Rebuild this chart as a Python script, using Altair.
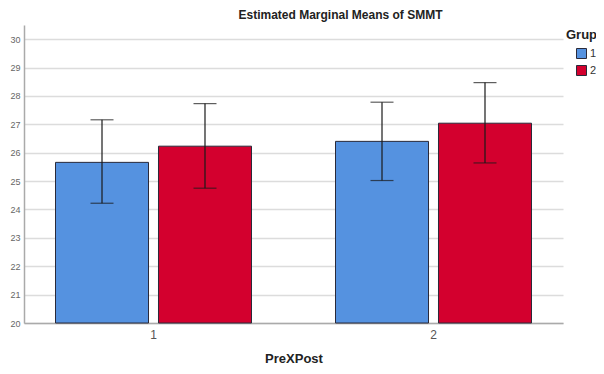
import altair as alt
import pandas as pd

prepost = ["1", "1", "2", "2"]
grup = ["1", "2", "1", "2"]
means = [25.66, 26.23, 26.40, 27.04]
lower = [24.22, 24.75, 25.02, 25.64]
upper = [27.16, 27.73, 27.78, 28.47]
y_ticks = [20, 21, 22, 23, 24, 25, 26, 27, 28, 29, 30]
baseline = 20
colors = ["#5592E0", "#D3002E"]

df = pd.DataFrame({"PreXPost": prepost, "Grup": grup, "mean": means,
                   "lo": lower, "hi": upper})

FONT = "Liberation Sans"

x = alt.X("PreXPost:N", title="PreXPost",
          scale=alt.Scale(paddingInner=0.3, paddingOuter=0.1125),
          axis=alt.Axis(labelAngle=0, labelFontSize=12, labelColor="#555555",
                        labelFont=FONT, titleFont=FONT, titleFontSize=13,
                        titleFontWeight="bold", titleColor="#222222",
                        titlePadding=12, ticks=False, domainColor="#aaaaaa",
                        domainWidth=1.5, labelPadding=6))
xoff = alt.XOffset("Grup:N", scale=alt.Scale(paddingInner=0.097, paddingOuter=0))
yscale = alt.Scale(domain=[20, 30.5], nice=False, zero=False)
yaxis = alt.Axis(values=y_ticks, labelFontSize=9, labelColor="#666666",
                 labelFont=FONT, ticks=False, labelPadding=4,
                 labelOverlap=False, tickCount=11,
                 gridColor="#dcdcdc", gridWidth=1.5,
                 domainColor="#aaaaaa", domainWidth=1.5)

bars = alt.Chart(df).mark_bar(stroke="#2a2a3a", strokeWidth=1).encode(
    x=x,
    xOffset=xoff,
    y=alt.Y("mean:Q", title=None, scale=yscale, axis=yaxis),
    y2=alt.datum(baseline),
    color=alt.Color("Grup:N", scale=alt.Scale(domain=["1", "2"], range=colors),
                    legend=alt.Legend(title="Grup", orient="none", legendX=542,
                                      legendY=4, symbolType="square",
                                      symbolSize=100, symbolStrokeColor="#2a2a3a",
                                      symbolStrokeWidth=1, titleFont=FONT,
                                      titleFontSize=13, titleFontWeight="bold",
                                      titleColor="#222222", labelFont=FONT,
                                      labelFontSize=11, labelColor="#333333",
                                      rowPadding=2, titlePadding=6,
                                      symbolOffset=10, labelOffset=3)),
)

rules = alt.Chart(df).mark_rule(color="#1a1a1a", strokeWidth=1.2).encode(
    x=alt.X("PreXPost:N"), xOffset=alt.XOffset("Grup:N"),
    y=alt.Y("lo:Q", title=None, scale=yscale, axis=yaxis), y2="hi:Q")

caps_hi = alt.Chart(df).mark_tick(color="#1a1a1a", orient="horizontal",
                                  size=23, thickness=1.2).encode(
    x=alt.X("PreXPost:N"), xOffset=alt.XOffset("Grup:N"),
    y=alt.Y("hi:Q", title=None, scale=yscale, axis=yaxis))
caps_lo = alt.Chart(df).mark_tick(color="#1a1a1a", orient="horizontal",
                                  size=23, thickness=1.2).encode(
    x=alt.X("PreXPost:N"), xOffset=alt.XOffset("Grup:N"),
    y=alt.Y("lo:Q", title=None, scale=yscale, axis=yaxis))

chart = alt.layer(bars, rules, caps_hi, caps_lo).properties(
    width=539, height=298,
    title=alt.TitleParams("Estimated Marginal Means of SMMT", font=FONT,
                          fontSize=12, fontWeight="bold", color="#222222",
                          anchor="middle", dx=47, offset=3),
    autosize=alt.AutoSizeParams(type="none"),
    padding={"left": 16, "top": 17, "right": 33, "bottom": 43},
).configure_view(stroke=None)

chart.save("out.html", embed_options={"renderer": "svg", "actions": False})
